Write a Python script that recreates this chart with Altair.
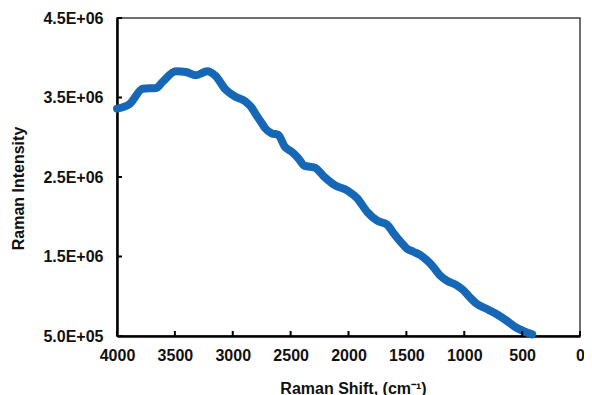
import altair as alt
import pandas as pd

# Raman shift (cm-1) and intensity
shift = [4000, 3889, 3778, 3661, 3604, 3490, 3404, 3319, 3220, 3148,
         3062, 2977, 2891, 2835, 2806, 2750, 2721, 2664, 2607, 2550,
         2493, 2436, 2379, 2293, 2208, 2122, 2009, 1923, 1838, 1752,
         1667, 1609, 1538, 1496, 1439, 1382, 1325, 1268, 1211, 1154,
         1068, 1011, 954, 897, 812, 726, 641, 556, 470, 413]
intensity = [3.36e6, 3.42e6, 3.61e6, 3.62e6, 3.70e6, 3.83e6, 3.82e6, 3.78e6, 3.83e6, 3.77e6,
             3.60e6, 3.51e6, 3.45e6, 3.37e6, 3.30e6, 3.18e6, 3.115e6, 3.05e6, 3.03e6, 2.88e6,
             2.82e6, 2.74e6, 2.64e6, 2.62e6, 2.50e6, 2.40e6, 2.33e6, 2.23e6, 2.06e6, 1.95e6,
             1.90e6, 1.79e6, 1.665e6, 1.60e6, 1.56e6, 1.52e6, 1.455e6, 1.37e6, 1.265e6, 1.20e6,
             1.14e6, 1.08e6, 0.99e6, 0.91e6, 0.845e6, 0.78e6, 0.70e6, 0.61e6, 0.55e6, 0.52e6]

x_ticks = [4000, 3500, 3000, 2500, 2000, 1500, 1000, 500, 0]
y_ticks = [5.0e5, 1.5e6, 2.5e6, 3.5e6, 4.5e6]

df = pd.DataFrame({"shift": shift, "intensity": intensity})
xt = pd.DataFrame({"shift": x_ticks})
yt = pd.DataFrame({"intensity": y_ticks})

FONT = "Liberation Sans"
W, H = 463, 318

x_enc = alt.X(
    "shift:Q",
    scale=alt.Scale(domain=[0, 4000], reverse=True, nice=False, zero=False),
    axis=alt.Axis(
        values=x_ticks, format="d", ticks=False, tickSize=0, grid=False,
        domainColor="black", domainWidth=2.5,
        labelFont=FONT, labelFontSize=16, labelFontWeight="bold", labelColor="#111",
        labelBaseline="alphabetic", labelPadding=24, labelFlush=False,
        title="Raman Shift, (cm⁻¹)", titleFont=FONT, titleFontSize=16,
        titleFontWeight="bold", titleColor="#111", titleX=236, titleY=57,
        titleAlign="center", titleBaseline="alphabetic",
    ),
)
y_enc = alt.Y(
    "intensity:Q",
    scale=alt.Scale(domain=[5.0e5, 4.5e6], nice=False, zero=False),
    axis=alt.Axis(
        values=y_ticks, ticks=False, tickSize=0, grid=False,
        domainColor="black", domainWidth=2.5,
        labelExpr="format(datum.value / pow(10, floor(log(datum.value) / LN10)), '.1f') + 'E+0' + floor(log(datum.value) / LN10)",
        labelFont=FONT, labelFontSize=16, labelFontWeight="bold", labelColor="#111",
        labelBaseline="middle", labelPadding=14,
        title="Raman Intensity", titleFont=FONT, titleFontSize=16,
        titleFontWeight="bold", titleColor="#111", titleAngle=270,
        titleX=-94, titleY=170, titleAlign="center", titleBaseline="alphabetic",
    ),
)

line = alt.Chart(df).mark_line(
    color="#1767B7", strokeWidth=8, strokeCap="round", strokeJoin="round",
    interpolate="monotone",
).encode(x=x_enc, y=y_enc)

yticks = alt.Chart(yt).mark_rule(color="black", strokeWidth=2).encode(
    y=y_enc, x=alt.value(0), x2=alt.value(5)
)
xticks = alt.Chart(xt).mark_rule(color="black", strokeWidth=2).encode(
    x=x_enc, y=alt.value(H), y2=alt.value(H - 5)
)

chart = alt.layer(line, yticks, xticks).properties(
    width=W, height=H,
    autosize=alt.AutoSizeParams(type="none"),
    padding={"left": 109, "top": 10, "right": 4, "bottom": 59},
).configure_view(stroke="#404040", strokeWidth=1.5)

chart.save("out.html", embed_options={"renderer": "svg", "actions": False})
